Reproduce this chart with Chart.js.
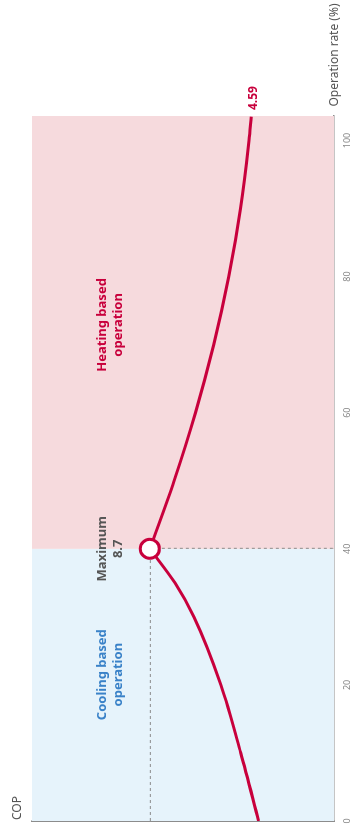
<!DOCTYPE html>
<html>
<head>
<meta charset="utf-8">
<script src="https://cdn.jsdelivr.net/npm/chart.js@4"></script>
<style>
  html, body { margin: 0; padding: 0; background: #fff; overflow: hidden; }
  #wrap {
    position: absolute; left: 0; top: 0; width: 830px; height: 350px;
    transform-origin: 0 0; transform: translateY(830px) rotate(-90deg);
  }
</style>
</head>
<body>
<div id="wrap"><canvas id="cop-chart" width="830" height="350"></canvas></div>
<script>
"use strict";
const rateTicks = [0, 20, 40, 60, 80, 100];
const coolingRate = [0, 10, 20, 30, 35, 40];
const coolingCop = [4.27, 5.0, 5.81, 6.91, 7.68, 8.7];
const heatingRate = [40, 50, 60, 70, 80, 90, 100, 103.5];
const heatingCop = [8.7, 7.71, 6.84, 6.1, 5.49, 5.01, 4.66, 4.57];
const maxRate = 40;
const maxCop = 8.7;
const endCop = 4.59;

const RED = "#c8003c";
const BLUE = "#3a82c8";
const GREY = "#555";
const FONT = "'Noto Sans', 'Open Sans', sans-serif";

const toPts = (xs, ys) => xs.map((x, i) => ({ x: x, y: ys[i] }));

const decor = {
    id: "decor",
    beforeDatasetsDraw(chart) {
        const { ctx, chartArea: a, scales: { x, y } } = chart;
        const xm = x.getPixelForValue(maxRate);
        const ym = y.getPixelForValue(maxCop);
        ctx.save();
        ctx.fillStyle = "#e6f3fb";
        ctx.fillRect(a.left, a.top, xm - a.left, a.bottom - a.top);
        ctx.fillStyle = "#f6dadd";
        ctx.fillRect(xm, a.top, a.right - xm, a.bottom - a.top);
        ctx.strokeStyle = "#8c8c8c";
        ctx.lineWidth = 1;
        ctx.setLineDash([3, 3]);
        ctx.beginPath();
        ctx.moveTo(a.left, ym + 0.5);
        ctx.lineTo(xm, ym + 0.5);
        ctx.moveTo(xm + 0.5, ym);
        ctx.lineTo(xm + 0.5, a.bottom);
        ctx.stroke();
        ctx.restore();
    },
    afterDraw(chart) {
        const { ctx, chartArea: a, scales: { x, y } } = chart;
        ctx.save();
        ctx.textAlign = "center";
        ctx.textBaseline = "middle";
        const two = (l1, l2, xv, color) => {
            const px = x.getPixelForValue(xv);
            const py = y.getPixelForValue(10.3);
            ctx.fillStyle = color;
            ctx.fillText(l1, px, py - 8);
            ctx.fillText(l2, px, py + 8);
        };
        ctx.font = "bold 13px " + FONT;
        two("Heating based", "operation", 72.9, RED);
        two("Cooling based", "operation", 21.5, BLUE);
        two("Maximum", String(maxCop), maxRate, GREY);
        ctx.font = "bold 12px " + FONT;
        ctx.fillStyle = RED;
        ctx.textAlign = "left";
        ctx.fillText(endCop.toFixed(2), a.right + 6, y.getPixelForValue(heatingCop[heatingCop.length - 1]) + 2);
        ctx.font = "12px " + FONT;
        ctx.fillStyle = GREY;
        ctx.textAlign = "center";
        ctx.fillText("COP", a.left + 13, 18);
        ctx.fillText("Operation rate (%)", a.right + 61, a.bottom + 1);
        ctx.restore();
    }
};

new Chart("cop-chart", {
    type: "line",
    data: {
        datasets: [{
                data: [{ x: maxRate, y: maxCop }],
                order: 0,
                pointRadius: 9.5,
                pointBackgroundColor: "#fff",
                pointBorderColor: RED,
                pointBorderWidth: 3,
                showLine: false,
            }, {
                data: toPts(coolingRate, coolingCop),
                order: 1,
                borderColor: RED,
                borderWidth: 3,
                pointRadius: 0,
                cubicInterpolationMode: "monotone",
            }, {
                data: toPts(heatingRate, heatingCop),
                order: 1,
                borderColor: RED,
                borderWidth: 3,
                pointRadius: 0,
                cubicInterpolationMode: "monotone",
            }],
    },
    options: {
        responsive: false,
        animation: false,
        devicePixelRatio: 1,
        layout: { autoPadding: false, padding: { left: 9, top: 32, right: 116, bottom: 0 } },
        plugins: { legend: { display: false }, tooltip: { enabled: false } },
        scales: {
            x: {
                type: "linear",
                min: 0,
                max: 103.6,
                afterBuildTicks: s => { s.ticks = rateTicks.map(v => ({ value: v })); },
                afterFit: s => { s.height = 16; s.paddingLeft = 0; s.paddingRight = 0; },
                grid: { display: false, drawTicks: false },
                border: { color: "#8c8c8c", width: 1.5 },
                ticks: { color: "#888", font: { family: FONT, size: 9 }, padding: 8, maxRotation: 0 },
            },
            y: {
                min: 1.2,
                max: 13.5,
                afterFit: s => { s.width = 0; },
                grid: { display: false, drawTicks: false },
                border: { color: "#8c8c8c", width: 1.5 },
                ticks: { display: false },
            },
        },
    },
    plugins: [decor],
});
</script>
</body>
</html>
